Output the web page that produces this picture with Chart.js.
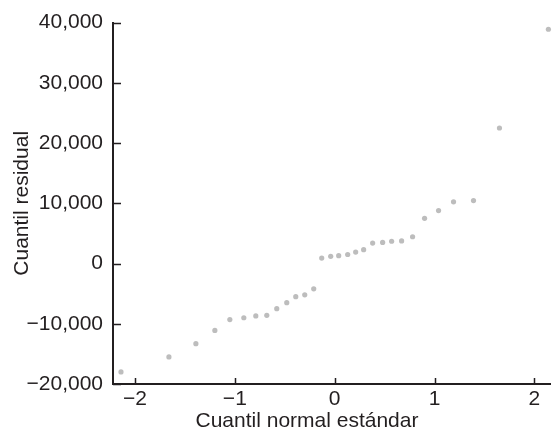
<!DOCTYPE html>
<html>
<head>
<meta charset="utf-8">
<script src="https://cdn.jsdelivr.net/npm/chart.js"></script>
<style>
  html, body { margin: 0; padding: 0; background: #fff; }
  #wrap { width: 553px; height: 434px; }
</style>
</head>
<body>
<div id="wrap"><canvas id="qq"></canvas></div>
<script>
// Theoretical normal quantiles (x) and residual quantiles (y)
const normalQuantiles = [
  -2.14, -1.66, -1.39, -1.20, -1.05, -0.91, -0.79, -0.68, -0.58, -0.48,
  -0.39, -0.30, -0.21, -0.13, -0.04, 0.04, 0.13, 0.21, 0.29, 0.38,
  0.48, 0.57, 0.67, 0.78, 0.90, 1.04, 1.19, 1.39, 1.65, 2.14
];
const residualQuantiles = [
  -18000, -15500, -13300, -11100, -9300, -9000, -8700, -8600, -7500, -6500,
  -5500, -5200, -4200, 900, 1200, 1300, 1500, 1900, 2300, 3400,
  3500, 3700, 3750, 4450, 7500, 8800, 10250, 10450, 22500, 38900
];
const xTicks = [-2, -1, 0, 1, 2];
const yTicks = [-20000, -10000, 0, 10000, 20000, 30000, 40000];

const xTitle = 'Cuantil normal estándar';
const yTitle = 'Cuantil residual';

const textColor = '#231f20';
const fontFamily = '"Liberation Sans", Arial, Helvetica, sans-serif';

const points = normalQuantiles.map((x, i) => ({ x, y: residualQuantiles[i] }));

function fmt(v) {
  const s = Math.abs(v).toLocaleString('en-US');
  return v < 0 ? '\u2212' + s : s;
}

// ticks drawn inward + x axis title placed like the original
const innerTicks = {
  id: 'innerTicks',
  afterDraw(chart) {
    const { ctx, chartArea, scales } = chart;
    ctx.save();
    ctx.strokeStyle = textColor;
    ctx.lineWidth = 1.5;
    ctx.beginPath();
    yTicks.forEach(v => {
      const py = Math.round(scales.y.getPixelForValue(v)) + 0.5;
      ctx.moveTo(chartArea.left, py);
      ctx.lineTo(chartArea.left + 8, py);
    });
    xTicks.forEach(v => {
      const px = Math.round(scales.x.getPixelForValue(v)) + 0.5;
      ctx.moveTo(px, chartArea.bottom);
      ctx.lineTo(px, chartArea.bottom - 6);
    });
    ctx.stroke();

    ctx.fillStyle = textColor;
    ctx.font = '21px ' + fontFamily;
    ctx.textAlign = 'center';
    ctx.textBaseline = 'middle';
    ctx.fillText(xTitle, 307, 421);
    ctx.restore();
  }
};

new Chart(document.getElementById('qq'), {
  type: 'scatter',
  data: {
    datasets: [{
      data: points,
      backgroundColor: '#bdbdbd',
      borderWidth: 0,
      pointRadius: 2.6,
      pointHoverRadius: 2.6,
      clip: false
    }]
  },
  options: {
    responsive: true,
    maintainAspectRatio: false,
    animation: false,
    events: [],
    layout: { padding: { top: 19, right: 0, left: 0, bottom: 0 } },
    plugins: { legend: { display: false }, tooltip: { enabled: false } },
    scales: {
      x: {
        type: 'linear',
        min: -2.22,
        max: 2.16,
        afterFit: s => { s.height = 50; },
        afterBuildTicks: s => { s.ticks = xTicks.map(v => ({ value: v })); },
        grid: { display: false, drawTicks: false },
        border: { display: true, color: textColor, width: 2 },
        ticks: {
          color: textColor,
          padding: 3,
          font: { family: fontFamily, size: 21 },
          callback: v => fmt(v)
        }
      },
      y: {
        type: 'linear',
        min: -20000,
        max: 40000,
        afterFit: s => { s.width = 113; },
        afterBuildTicks: s => { s.ticks = yTicks.map(v => ({ value: v })); },
        grid: { display: false, drawTicks: false },
        border: { display: true, color: textColor, width: 2 },
        title: {
          display: true,
          text: yTitle,
          color: textColor,
          padding: { top: 10, bottom: 0 },
          font: { family: fontFamily, size: 21 }
        },
        ticks: {
          color: textColor,
          padding: 10,
          font: { family: fontFamily, size: 21 },
          callback: v => fmt(v)
        }
      }
    }
  },
  plugins: [innerTicks]
});
</script>
</body>
</html>
